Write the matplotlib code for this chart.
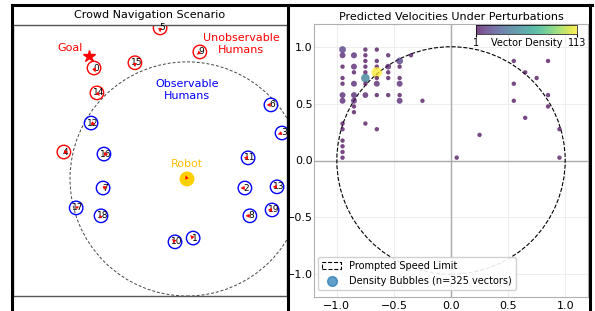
import numpy as np
import matplotlib
matplotlib.use('Agg')
import matplotlib.pyplot as plt
from matplotlib.patches import Circle, Patch
from matplotlib.lines import Line2D

W, H = 595, 311

# ---- left panel: scene (metres, robot at origin) ----
SENSOR_RANGE = 4.0
HUMAN_RADIUS = 0.23
human_x = [-3.18, 0.21, 1.98, 3.25, -4.21, -0.92, 2.87, -2.87, 2.15, 0.44,
           -0.41, 2.09, -3.28, 3.08, -3.08, -1.78, -2.84, -3.79, -2.94, 2.91]
human_y = [3.79, -2.02, -0.31, 1.57, 0.92, 5.16, 2.53, -0.31, -1.26, 4.34,
           -2.15, 0.72, 1.91, -0.27, 2.94, 3.97, 0.85, -0.99, -1.26, -1.06]
human_vx = [0.05, -0.10, -0.15, -0.15, 0.15, 0.0, -0.15, 0.15, -0.15, -0.10,
            -0.10, -0.15, 0.15, -0.15, 0.10, 0.0, 0.15, 0.10, -0.05, -0.15]
human_vy = [-0.15, 0.10, 0.0, -0.05, 0.0, -0.15, 0.0, 0.05, 0.0, -0.10,
            0.10, 0.0, -0.05, 0.0, -0.10, -0.15, 0.0, 0.05, -0.10, 0.0]
robot_pos = (0.0, 0.0)
robot_vel = (-0.05, 0.12)
goal_pos = (-3.35, 4.21)

# ---- right panel: predicted velocity bubbles ----
vel_x = [-0.95] * 13 + [-0.85] * 8 + [-0.75] * 9 + [-0.65] * 8 + [-0.55] * 5 + [-0.45] * 6 + \
        [-0.35, -0.25, 0.05, 0.25, 0.55, 0.55, 0.55, 0.65, 0.65, 0.75, 0.85, 0.85, 0.85, 0.95, 0.95]
vel_y = [0.975, 0.925, 0.825, 0.725, 0.675, 0.575, 0.525, 0.325, 0.275, 0.175, 0.125, 0.075, 0.025,
         0.925, 0.825, 0.775, 0.675, 0.575, 0.525, 0.475, 0.425,
         0.975, 0.925, 0.875, 0.825, 0.775, 0.725, 0.675, 0.575, 0.325,
         0.975, 0.875, 0.825, 0.775, 0.725, 0.675, 0.575, 0.275,
         0.925, 0.825, 0.775, 0.725, 0.575,
         0.875, 0.825, 0.725, 0.675, 0.575, 0.525,
         0.925, 0.525, 0.025, 0.225, 0.875, 0.675, 0.525, 0.775, 0.375, 0.725, 0.875, 0.575, 0.475,
         0.275, 0.025]
vel_count = [15, 7, 1, 1, 1, 7, 7, 1, 1, 1, 1, 1, 1,
             8, 7, 1, 7, 7, 7, 1, 1,
             1, 1, 1, 1, 1, 45, 1, 6, 1,
             1, 1, 1, 113, 1, 7, 1, 1,
             1, 6, 1, 1, 1,
             15, 1, 1, 7, 1, 7,
             1, 1, 1, 1, 1, 1, 1, 1, 1, 1, 1, 1, 1, 1, 1]
SPEED_LIMIT = 1.0


def px_box(x0, y0, x1, y1):
    return [x0 / W, 1 - y1 / H, (x1 - x0) / W, (y1 - y0) / H]


fig = plt.figure(figsize=(W / 100, H / 100), dpi=100)

# left: title strip
ax_t = fig.add_axes(px_box(13, 5, 287, 25))
ax_t.axis('off')
ax_t.text(0.5, 0.5, 'Crowd Navigation Scenario', ha='center', va='center', fontsize=8)

# left: scene
ax_s = fig.add_axes(px_box(13, 25, 287, 296))
ax_s.set_xlim(-5.95, 3.42)
ax_s.set_ylim(-4.0, 5.26)
ax_s.set_xticks([])
ax_s.set_yticks([])
for sp in ax_s.spines.values():
    sp.set_color('#555555')
    sp.set_linewidth(1.0)

ax_s.add_patch(Circle(robot_pos, SENSOR_RANGE, fill=False, ls=(0, (3, 2)), lw=0.7, color='#444444'))
hx, hy = np.array(human_x), np.array(human_y)
dist = np.hypot(hx - robot_pos[0], hy - robot_pos[1])
for i in range(len(hx)):
    col = 'blue' if dist[i] <= SENSOR_RANGE else 'red'
    ax_s.add_patch(Circle((hx[i], hy[i]), HUMAN_RADIUS, fill=False, ec=col, lw=1.0))
    ax_s.text(hx[i] + 0.06, hy[i], str(i), ha='center', va='center', fontsize=6.5, color='black')
ax_s.quiver(hx, hy, human_vx, human_vy, angles='xy', scale_units='xy', scale=1,
            color='red', width=0.005, headwidth=3, headlength=3, headaxislength=3, zorder=4)

ax_s.add_patch(Circle(robot_pos, HUMAN_RADIUS, color='#FFD000', zorder=3))
ax_s.quiver([robot_pos[0]], [robot_pos[1]], [robot_vel[0]], [robot_vel[1]], angles='xy',
            scale_units='xy', scale=1, color='red', width=0.005, headwidth=3,
            headlength=3, headaxislength=3, zorder=4)
ax_s.plot(*goal_pos, marker='*', color='red', markersize=9)

ax_s.text(-4.0, 4.48, 'Goal', color='red', fontsize=8, ha='center', va='center')
ax_s.text(1.86, 4.62, 'Unobservable\nHumans', color='red', fontsize=8, ha='center', va='center')
ax_s.text(0.0, 3.04, 'Observable\nHumans', color='blue', fontsize=8, ha='center', va='center')
ax_s.text(0.0, 0.51, 'Robot', color='#FFC000', fontsize=8, ha='center', va='center')

# right: velocities
ax = fig.add_axes(px_box(314, 24, 588, 297))
ax.set_xlim(-1.2, 1.2)
ax.set_ylim(-1.2, 1.2)
ticks = [-1.0, -0.5, 0.0, 0.5, 1.0]
ax.set_xticks(ticks)
ax.set_yticks(ticks)
ax.tick_params(labelsize=8, length=0)
ax.tick_params(axis='x', pad=3)
ax.tick_params(axis='y', pad=1)
ax.grid(True, color='#eeeeee', lw=0.8)
ax.set_axisbelow(True)
ax.axhline(0, color='#aaaaaa', lw=1.0, zorder=1)
ax.axvline(0, color='#aaaaaa', lw=1.0, zorder=1)
for sp in ax.spines.values():
    sp.set_color('#b0b0b0')
    sp.set_linewidth(0.8)
ax.set_title('Predicted Velocities Under Perturbations', fontsize=8, pad=3)

cnt = np.array(vel_count)
sizes = 5 + 5 * np.sqrt(cnt)
sc = ax.scatter(vel_x, vel_y, s=sizes, c=cnt, cmap='viridis', vmin=1, vmax=cnt.max(),
                alpha=0.72, edgecolors='none', zorder=3)
ax.add_patch(Circle((0, 0), SPEED_LIMIT, fill=False, ls='--', lw=0.8, color='black', zorder=2))

handles = [Patch(facecolor='white', edgecolor='black', linestyle='--', lw=0.8),
           Line2D([], [], marker='o', ls='', color='C0', alpha=0.7, markersize=7)]
labels = ['Prompted Speed Limit', f'Density Bubbles (n={cnt.sum()} vectors)']
ax.legend(handles, labels, loc='lower left', bbox_to_anchor=(4 / 274, 7 / 273),
          borderaxespad=0, fontsize=7, framealpha=0.9, edgecolor='#cccccc')

cax = fig.add_axes(px_box(476, 25, 577, 34))
cbar = fig.colorbar(sc, cax=cax, orientation='horizontal', ticks=[1, int(cnt.max())])
cbar.ax.tick_params(labelsize=7, length=2, pad=1)
cbar.outline.set_linewidth(0.5)
cax.text(0.5, -0.45, 'Vector Density', transform=cax.transAxes, ha='center', va='top', fontsize=7)

# thick panel frames
for xs, ys in [((12, 592), (5, 5)), ((12, 12), (5, 311)), ((287.5, 287.5), (5, 311)),
               ((590, 590), (5, 311))]:
    fig.add_artist(Line2D([x / W for x in xs], [1 - y / H for y in ys],
                          transform=fig.transFigure, color='black', lw=2.2))

fig.savefig('out.png', dpi=100)
